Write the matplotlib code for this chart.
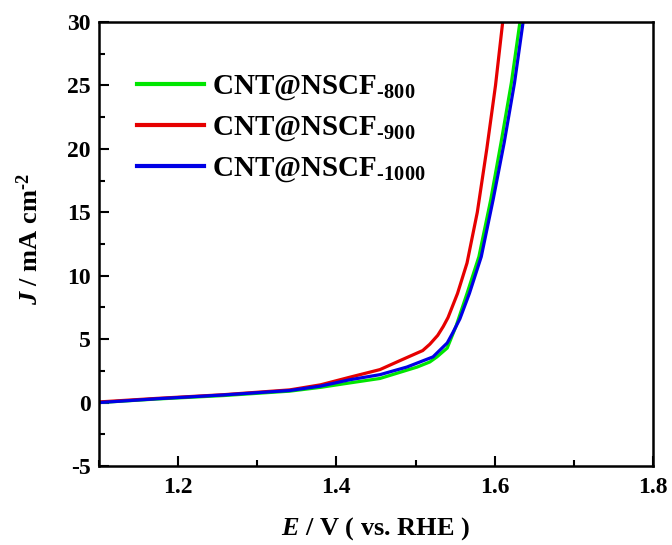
import numpy as np
import matplotlib
matplotlib.use("Agg")
import matplotlib.pyplot as plt
from matplotlib.ticker import MultipleLocator

# -------------------------
# Data
# -------------------------
E_800 = [1.100, 1.173, 1.257, 1.341, 1.380, 1.417, 1.455, 1.502, 1.518, 1.527,
         1.540, 1.551, 1.565, 1.580, 1.595, 1.608, 1.621, 1.633]
J_800 = [0.0, 0.28, 0.55, 0.9, 1.2, 1.55, 1.9, 2.8, 3.2, 3.6,
         4.3, 6.0, 8.6, 11.5, 16.0, 20.5, 25.2, 30.5]

E_900 = [1.100, 1.173, 1.257, 1.341, 1.380, 1.417, 1.455, 1.480, 1.509, 1.518,
         1.528, 1.535, 1.541, 1.553, 1.565, 1.578, 1.590, 1.601, 1.611]
J_900 = [0.05, 0.33, 0.62, 1.0, 1.4, 2.0, 2.6, 3.3, 4.1, 4.6,
         5.3, 6.0, 6.7, 8.6, 11.0, 15.0, 20.0, 25.0, 30.5]

E_1000 = [1.100, 1.173, 1.257, 1.341, 1.380, 1.417, 1.455, 1.489, 1.522, 1.540,
          1.547, 1.556, 1.568, 1.583, 1.598, 1.612, 1.625, 1.637]
J_1000 = [0.0, 0.3, 0.6, 0.95, 1.3, 1.8, 2.2, 2.8, 3.6, 4.7,
          5.5, 6.6, 8.6, 11.5, 16.0, 20.5, 25.2, 30.5]

labels = ["CNT@NSCF$_{\\mathregular{\u2010800}}$",
          "CNT@NSCF$_{\\mathregular{\u2010900}}$",
          "CNT@NSCF$_{\\mathregular{\u20101000}}$"]
colors = ["#00e600", "#e60000", "#0000e6"]

x_ticks = [1.2, 1.4, 1.6, 1.8]
y_ticks = [-5, 0, 5, 10, 15, 20, 25, 30]

# -------------------------
# Style
# -------------------------
plt.rcParams["font.family"] = ["Liberation Serif", "DejaVu Serif"]
plt.rcParams["font.weight"] = "bold"
plt.rcParams["axes.unicode_minus"] = False
plt.rcParams["mathtext.fontset"] = "custom"
plt.rcParams["mathtext.rm"] = "Liberation Serif:bold"
plt.rcParams["mathtext.it"] = "Liberation Serif:italic:bold"
plt.rcParams["mathtext.bf"] = "Liberation Serif:bold"

fig = plt.figure(figsize=(6.72, 5.45), dpi=100)
ax = fig.add_axes([99 / 672, 1 - 466 / 545, 554 / 672, 444 / 545])

# draw order: green, red, blue on top
ax.plot(E_800, J_800, color=colors[0], lw=2.3, label=labels[0])
ax.plot(E_900, J_900, color=colors[1], lw=2.3, label=labels[1])
ax.plot(E_1000, J_1000, color=colors[2], lw=2.3, label=labels[2])

ax.set_xlim(1.1, 1.8)
ax.set_ylim(-5, 30)
ax.set_xticks(x_ticks)
ax.set_yticks(y_ticks)
ax.xaxis.set_minor_locator(MultipleLocator(0.1))
ax.yaxis.set_minor_locator(MultipleLocator(2.5))
ax.tick_params(which="both", direction="in", width=1.5, top=False, right=False,
               labelsize=17)
ax.tick_params(which="major", length=7)
ax.tick_params(which="minor", length=4)
ax.tick_params(axis="x", pad=8)
ax.tick_params(axis="y", pad=6)
for s in ax.spines.values():
    s.set_linewidth(1.8)

ax.set_xlabel(r"$E$ / V ( vs. RHE )", fontsize=19, fontweight="bold", labelpad=12)
ax.set_ylabel("$J$ / mA cm$^{\\mathregular{\u20102}}$", fontsize=19, fontweight="bold")
ax.yaxis.set_label_coords(-0.102, 0.51)

leg = ax.legend(loc="upper left", bbox_to_anchor=(0.069, 0.885), frameon=False,
                fontsize=21, handlelength=2.3, handletextpad=0.28,
                labelspacing=0.4, borderpad=0, borderaxespad=0)
for h in leg.get_lines():
    h.set_linewidth(3)

fig.savefig("out.png", dpi=100)
